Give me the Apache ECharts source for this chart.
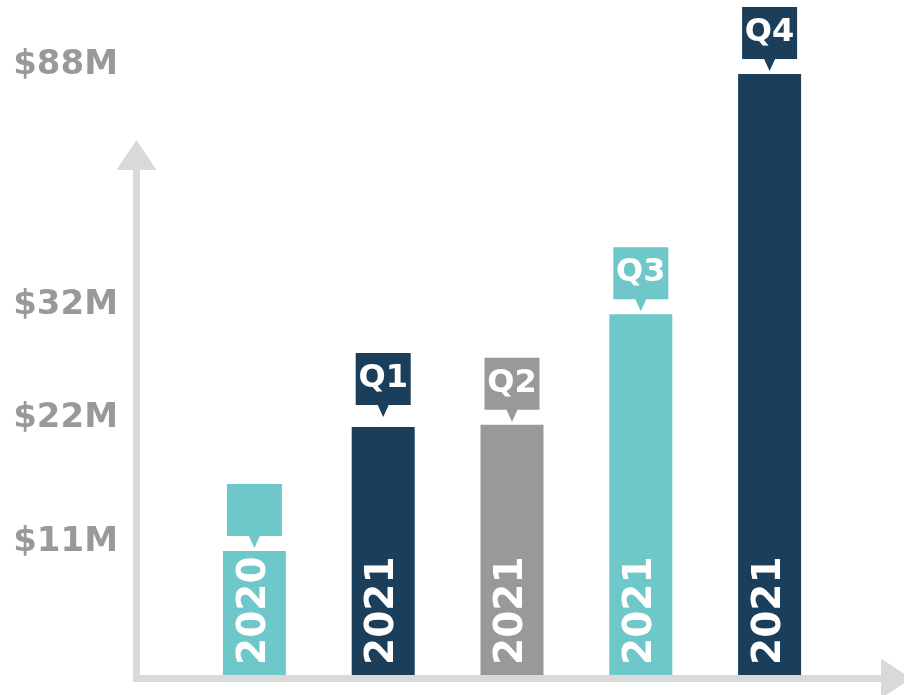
<!DOCTYPE html>
<html><head><meta charset="utf-8">
<script src="https://cdn.jsdelivr.net/npm/echarts@6/dist/echarts.min.js"></script>
<style>html,body{margin:0;padding:0;background:#fff}#c{width:904px;height:695px}</style>
</head><body><div id="c"></div>
<script>
// ---- data ----
const years = ['2020', '2021', '2021', '2021', '2021'];
const quarters = ['', 'Q1', 'Q2', 'Q3', 'Q4'];
const categories = years.map((y, i) => y + (quarters[i] ? ' ' + quarters[i] : ''));
const revenue = [11, 22, 22.2, 32, 88];          // $M
const yTickValues = [11, 22, 32, 88];            // labelled values on the y axis
const palette = ['#6ec8c9', '#1b3f5a', '#999999', '#6ec8c9', '#1b3f5a'];
const calloutLift = [35, 42, 35, 35, 35];        // style: callout offset above bar top (px)

const chart = echarts.init(document.getElementById('c'), null, { renderer: 'canvas' });
const FONT = 'DejaVu Sans';
const axisGray = '#d9d9d9';

chart.setOption({
  animation: false,
  backgroundColor: '#ffffff',
  grid: [
    { left: 190, right: 70, top: 74, bottom: 20 },
    { left: 136.5, right: 8, top: 155, bottom: 16.5 }
  ],
  xAxis: [
    { type: 'category', gridIndex: 0, data: categories,
      axisLine: { show: false }, axisTick: { show: false }, axisLabel: { show: false }, splitLine: { show: false } },
    { type: 'value', gridIndex: 1, min: 0, max: 1,
      axisLine: { show: true, onZero: false, symbol: ['none', 'triangle'], symbolSize: [40, 30],
        lineStyle: { color: axisGray, width: 7, cap: 'square' } },
      axisTick: { show: false }, axisLabel: { show: false }, splitLine: { show: false } }
  ],
  yAxis: [
    { type: 'value', gridIndex: 0, min: 0, max: 88,
      breaks: [{ start: 45, end: 79.7, gap: 0 }],
      breakArea: { show: false },
      axisLine: { show: false }, axisTick: { show: false }, splitLine: { show: false },
      axisLabel: {
        show: true, customValues: yTickValues, margin: 72,
        formatter: v => '$' + v + 'M',
        color: '#999999', fontFamily: FONT, fontWeight: 'bold', fontSize: 34,
        verticalAlign: 'bottom', lineHeight: 18
      } },
    { type: 'value', gridIndex: 1, min: 0, max: 1,
      axisLine: { show: true, onZero: false, symbol: ['none', 'triangle'], symbolSize: [40, 30],
        lineStyle: { color: axisGray, width: 7, cap: 'square' } },
      axisTick: { show: false }, axisLabel: { show: false }, splitLine: { show: false } }
  ],
  series: [
    {
      type: 'bar', xAxisIndex: 0, yAxisIndex: 0, barWidth: 63,
      data: revenue.map((v, i) => ({ value: v, itemStyle: { color: palette[i] } })),
      label: {
        show: true, formatter: p => years[p.dataIndex],
        position: 'insideBottom', distance: 10, rotate: 90, align: 'left', verticalAlign: 'middle',
        color: '#ffffff', fontFamily: FONT, fontWeight: 'bold', fontSize: 39
      },
      emphasis: { disabled: true }
    },
    {
      type: 'scatter', xAxisIndex: 0, yAxisIndex: 0, clip: false, z: 5,
      data: revenue.map((v, i) => ({
        value: [categories[i], v],
        symbolOffset: [0, -calloutLift[i]],
        itemStyle: { color: palette[i], opacity: 1 }
      })),
      symbol: 'path://M0,0H55V52H33L27.5,64L22,52H0Z',
      symbolSize: [55, 64], symbolKeepAspect: false,
      label: {
        show: true, formatter: p => quarters[p.dataIndex],
        position: 'inside', offset: [0, -6],
        color: '#ffffff', fontFamily: FONT, fontWeight: 'bold', fontSize: 32
      },
      emphasis: { disabled: true }
    }
  ]
});
</script>
</body></html>
